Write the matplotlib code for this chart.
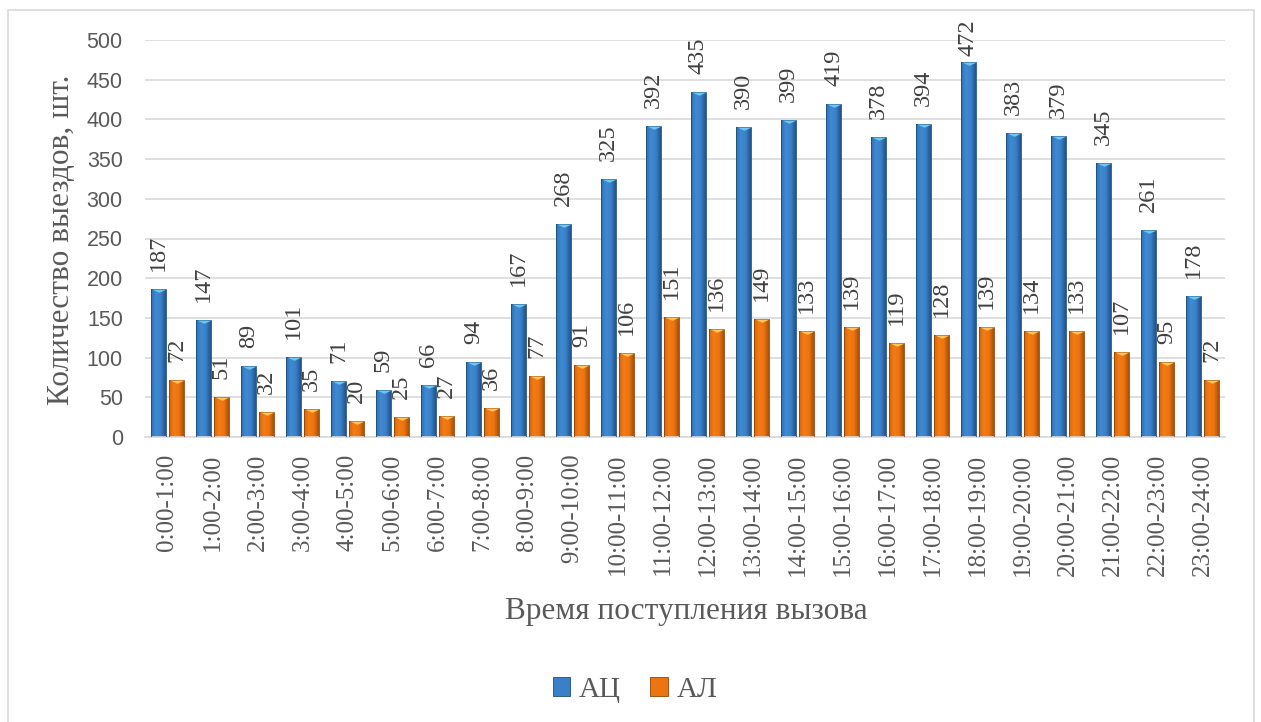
import numpy as np
import matplotlib
matplotlib.use("Agg")
import matplotlib.pyplot as plt
from matplotlib.colors import LinearSegmentedColormap
from matplotlib.patches import Patch, Rectangle

# данные
hours = ["0:00-1:00", "1:00-2:00", "2:00-3:00", "3:00-4:00", "4:00-5:00", "5:00-6:00",
         "6:00-7:00", "7:00-8:00", "8:00-9:00", "9:00-10:00", "10:00-11:00", "11:00-12:00",
         "12:00-13:00", "13:00-14:00", "14:00-15:00", "15:00-16:00", "16:00-17:00",
         "17:00-18:00", "18:00-19:00", "19:00-20:00", "20:00-21:00", "21:00-22:00",
         "22:00-23:00", "23:00-24:00"]
ac = [187, 147, 89, 101, 71, 59, 66, 94, 167, 268, 325, 392, 435, 390, 399, 419, 378,
      394, 472, 383, 379, 345, 261, 178]
al = [72, 51, 32, 35, 20, 25, 27, 36, 77, 91, 106, 151, 136, 149, 133, 139, 119, 128,
      139, 134, 133, 107, 95, 72]
series_names = ["АЦ", "АЛ"]

serif = ["Liberation Serif", "DejaVu Serif"]
sans = ["Liberation Sans", "DejaVu Sans"]
txt_col = "#595959"

fig = plt.figure(figsize=(12.61, 7.22), dpi=100)
ax = fig.add_axes([145 / 1261, 1 - 437 / 722, 1080 / 1261, 397 / 722])

# рамка вокруг диаграммы
fig.patches.append(Rectangle((8 / 1261, -0.05), 1246 / 1261, 1.05 - 10 / 722,
                             transform=fig.transFigure, fill=False,
                             edgecolor="#D9D9D9", lw=1.2))

x = np.arange(len(hours))
w = 0.333
blue_cm = LinearSegmentedColormap.from_list("b", ["#2F6FB4", "#3F8BD3", "#3A80C8", "#22528A"])
orng_cm = LinearSegmentedColormap.from_list("o", ["#D9650C", "#F37C14", "#EC7411", "#A9500A"])
grad = np.linspace(0, 1, 64).reshape(1, -1)

def draw_series(xs, vals, cmap, tri_col, edge):
    bars = ax.bar(xs, vals, width=w, color="none", edgecolor=edge, lw=0.6, zorder=3)
    for b in bars:
        x0, h = b.get_x(), b.get_height()
        im = ax.imshow(grad, extent=[x0, x0 + w, 0, h], aspect="auto", cmap=cmap, zorder=2)
        im.set_clip_path(b)
    tri = [(-1, 0), (1, 0), (0, -0.45), (-1, 0)]
    ax.plot(xs, vals, ls="none", marker=tri, ms=10.5, mfc=tri_col, mec="none", zorder=4)
    return bars

draw_series(x - 0.2, ac, blue_cm, "#6CC8F0", "#1F4E79")
draw_series(x + 0.2, al, orng_cm, "#FFC45A", "#8F4407")

ax.set_xlim(-0.5, len(hours) - 0.5)
ax.set_ylim(0, 500)

# подписи данных: отступ ~18 px, но не выше рамки диаграммы
px_per_unit = 397 / 500
for xs, vals in ((x - 0.2, ac), (x + 0.2, al)):
    for xi, v in zip(xs, vals):
        top_px = 437 - v * px_per_unit
        gap_px = min(18, top_px - 20 - 12 * len(str(v)))
        ax.annotate(str(v), (xi, v), xytext=(0, gap_px * 0.72), textcoords="offset points",
                    rotation=90, ha="center", va="bottom", fontsize=17.5,
                    family=serif, color="#404040", annotation_clip=False)

ax.set_yticks(np.arange(0, 501, 50))
ax.yaxis.grid(True, color="#D9D9D9", lw=1.2)
ax.set_axisbelow(True)
for s in ("top", "right", "left"):
    ax.spines[s].set_visible(False)
ax.spines["bottom"].set_color("#D9D9D9")
ax.spines["bottom"].set_linewidth(1.2)
ax.tick_params(axis="y", length=0, pad=16, labelsize=15.5, labelcolor=txt_col)
ax.tick_params(axis="x", length=0, pad=12)
for lab in ax.get_yticklabels():
    lab.set_family(sans)
ax.set_xticks(x)
ax.set_xticklabels(hours, rotation=90, fontsize=18, family=serif, color=txt_col)
ax.set_facecolor("none")

fig.text(62 / 1261, 1 - 240 / 722, "Количество выездов, шт.", rotation=90,
         ha="center", va="center", fontsize=22.5, family=serif, color=txt_col)
fig.text(686 / 1261, 1 - 612 / 722, "Время поступления вызова",
         ha="center", va="center", fontsize=22.5, family=serif, color=txt_col)

handles = [Patch(facecolor="#3A80C8", edgecolor="#1F4E79", lw=0.6),
           Patch(facecolor="#EC7411", edgecolor="#8F4407", lw=0.6)]
fig.legend(handles, series_names, loc="center", bbox_to_anchor=(635 / 1261, 1 - 690 / 722),
           ncol=2, frameon=False, prop={"family": serif, "size": 21},
           labelcolor=txt_col, handlelength=0.6, handleheight=0.6,
           handletextpad=0.3, columnspacing=1.0)

fig.savefig("out.png", dpi=100)
